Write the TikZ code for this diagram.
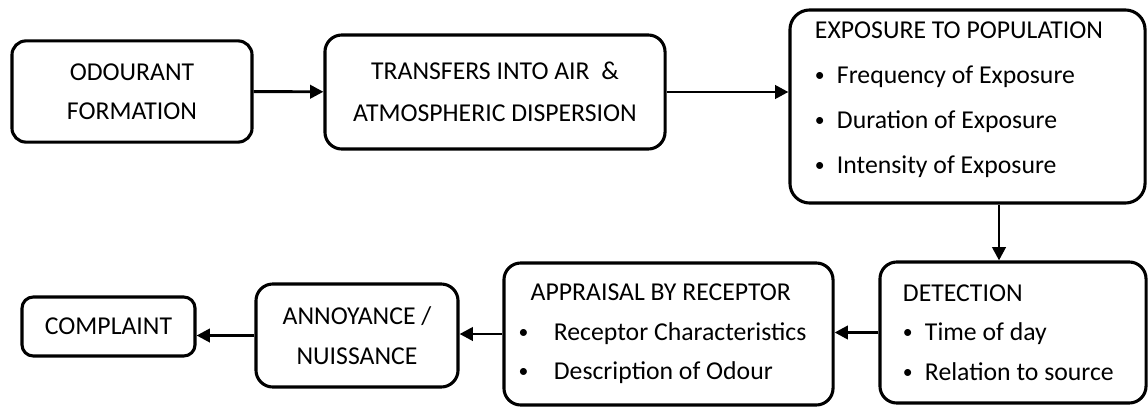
\documentclass[tikz,border=0pt]{standalone}
\usepackage{fontspec}
\setmainfont{Carlito}
\usetikzlibrary{arrows.meta}

% bullet item inside a box
\newcommand{\dotb}{\raisebox{1.5pt}{\fontsize{14}{14}\selectfont\textbullet}}
\newcommand{\bul}[1]{\makebox[0.55cm][l]{\dotb}#1}

\begin{document}
\begin{tikzpicture}[
    x=0.025cm, y=-0.025cm,
    >={Triangle[length=9.5pt,width=9.5pt]},
    line width=2.1pt,
    % Stile per i riquadri
    box/.style={draw, line width=2.2pt, rounded corners=12pt, align=flush center, inner sep=0pt,
                font=\fontsize{18.3}{28}\selectfont},
    list/.style={box, align=flush left}
]
    \useasboundingbox (0,0) rectangle (1148,408);

    % Riga superiore
    \node[box, minimum width=6cm, minimum height=2.53cm, rounded corners=10pt] (odour) at (132,91.5) {ODOURANT\\FORMATION};
    \node[box, minimum width=8.5cm, minimum height=2.85cm, font=\fontsize{18.3}{30}\selectfont] (transfer) at (495,92) {TRANSFERS INTO AIR\ \ \&\\ATMOSPHERIC DISPERSION};
    \node[list, minimum width=8.875cm, minimum height=4.825cm, text width=7.625cm, rounded corners=14pt,
          font=\fontsize{18.3}{32}\selectfont] (expo) at (967.5,106.5)
          {EXPOSURE TO POPULATION\\ \bul{Frequency of Exposure}\\ \bul{Duration of Exposure}\\
           \bul{Intensity of Exposure}\rule[-12pt]{0pt}{12pt}};

    % Riga inferiore
    \node[list, minimum width=6.65cm, minimum height=3.525cm, text width=5.5cm] (detect) at (1013,332.5)
          {DETECTION\\ \bul{Time of day}\\ \bul{Relation to source}};
    \node[list, minimum width=8.225cm, minimum height=3.55cm] (apprais) at (668.5,334)
          {APPRAISAL BY RECEPTOR\\
           \hspace*{-0.3cm}\makebox[0.88cm][l]{\dotb}Receptor Characteristics\\
           \hspace*{-0.3cm}\makebox[0.88cm][l]{\dotb}Description of Odour};
    \node[box, minimum width=5.05cm, minimum height=2.575cm] (annoy) at (357,335.5) {ANNOYANCE /\\NUISSANCE};
    \node[box, minimum width=4.325cm, minimum height=1.475cm, rounded corners=8pt] (complaint) at (108.5,326.5) {COMPLAINT};

    % Frecce
    \coordinate (drop) at (999,0);
    \draw[->] (odour) -- (transfer);
    \draw[->] (transfer.east) -- (transfer.east -| expo.west);
    \draw[->] (expo.south -| drop) -- (detect.north -| drop);
    \draw[->] (detect.west) -- (detect.west -| apprais.east);
    \draw[->] (apprais.west) -- (apprais.west -| annoy.east);
    \draw[->] (annoy.west) -- (annoy.west -| complaint.east);

\end{tikzpicture}
\end{document}
